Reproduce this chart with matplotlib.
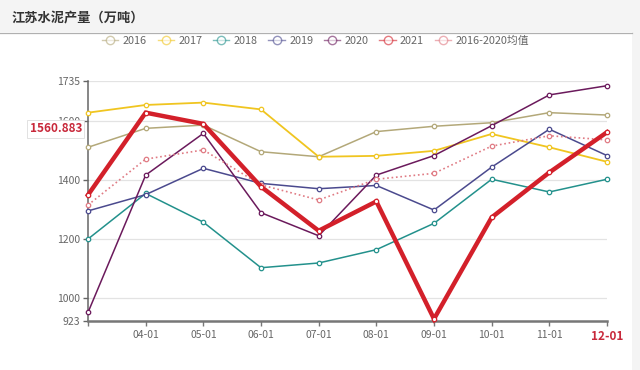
import matplotlib
matplotlib.use("Agg")
import matplotlib.pyplot as plt
from matplotlib.lines import Line2D
from matplotlib.patches import Rectangle
import matplotlib.transforms as mtransforms

plt.rcParams['font.family'] = ['Noto Sans CJK SC', 'DejaVu Sans']

# data (万吨)
months = ['03-01', '04-01', '05-01', '06-01', '07-01', '08-01', '09-01', '10-01', '11-01', '12-01']
y2016 = [1510, 1574, 1585, 1495, 1478, 1563, 1581, 1593, 1627, 1619]
y2017 = [1627, 1653, 1661, 1638, 1478, 1481, 1498, 1555, 1510, 1461]
y2018 = [1200, 1354, 1257, 1103, 1119, 1164, 1253, 1402, 1359, 1402]
y2019 = [1295, 1350, 1439, 1388, 1370, 1381, 1298, 1443, 1571, 1482]
y2020 = [952, 1416, 1557, 1289, 1211, 1416, 1482, 1583, 1687, 1718]
y2021 = [1349, 1627, 1589, 1377, 1228, 1327, 930, 1273, 1425, 1560.883]
y_avg = [1315, 1470, 1501, 1383, 1332, 1402, 1422, 1514, 1549, 1535]
y_ticks = [923, 1000, 1200, 1400, 1600, 1735]

series = [
    ('2016', y2016, '#b3a879', '-', 1.1),
    ('2017', y2017, '#f0c520', '-', 1.3),
    ('2018', y2018, '#23918c', '-', 1.1),
    ('2019', y2019, '#4b4a8e', '-', 1.1),
    ('2020', y2020, '#6b1a5c', '-', 1.1),
    ('2016-2020均值', y_avg, '#e07b84', ':', 1.2),
    ('2021', y2021, '#d3202a', '-', 3.2),
]
legend_order = ['2016', '2017', '2018', '2019', '2020', '2021', '2016-2020均值']

fig = plt.figure(figsize=(6.4, 3.7), dpi=100)
fig.patch.set_facecolor('white')

# header band, right strip and divider
fig.patches.append(Rectangle((0, 1 - 32 / 370), 1, 32 / 370, transform=fig.transFigure,
                             facecolor='#f4f4f4', edgecolor='none', zorder=0))
fig.patches.append(Rectangle((632 / 640, 0), 8 / 640, 1, transform=fig.transFigure,
                             facecolor='#f4f4f4', edgecolor='none', zorder=0))
fig.lines.append(Line2D([0, 632 / 640], [1 - 32.5 / 370] * 2, transform=fig.transFigure,
                        color='#b0b0b0', lw=0.9))
fig.text(12 / 640, 1 - 18 / 370, '江苏水泥产量（万吨）', fontsize=9.5, fontweight='bold',
         color='#333333', va='center', ha='left')

ax = fig.add_axes([88 / 640, 49 / 370, 519 / 640, 240.3 / 370])
x = list(range(len(months)))

for name, vals, col, ls, lw in series:
    z = 5 if name == '2021' else 3
    ax.plot(x, vals, color=col, ls=ls, lw=lw, marker='o', ms=3.2, mfc='white',
            mec=col, mew=0.9, clip_on=False, zorder=z, solid_joinstyle='miter')

ax.set_xlim(0, len(months) - 1)
ax.set_ylim(y_ticks[0], y_ticks[-1])
ax.set_yticks(y_ticks)
ax.set_yticklabels([str(t) for t in y_ticks])
for t in y_ticks[1:]:
    ax.axhline(t, color='#e3e3e3', lw=0.9, zorder=1)

ax.set_xticks(x)
ax.set_xticklabels([''] + months[1:-1] + [months[-1]])

for s in ['top', 'right']:
    ax.spines[s].set_visible(False)
ax.spines['left'].set_color('#666666')
ax.spines['left'].set_linewidth(1.1)
ax.spines['bottom'].set_color('#777777')
ax.spines['bottom'].set_linewidth(1.8)
ax.tick_params(axis='y', colors='#666666', labelsize=7.5, length=3.5, width=1, pad=2)
ax.tick_params(axis='x', colors='#777777', labelcolor='#666666', labelsize=7.5,
               length=3.5, width=1, pad=3)
lbls = ax.get_xticklabels()
lbls[-1].set_color('#c8283a')
lbls[-1].set_fontweight('bold')
lbls[-1].set_fontsize(8.5)

# axis pointer label for the last 2021 value
trans = mtransforms.blended_transform_factory(ax.transAxes, ax.transData)
ax.text(-6 / 519, y2021[-1] + 12, f'{y2021[-1]:.3f}', transform=trans, ha='right', va='center',
        fontsize=8.5, fontweight='bold', color='#c8283a', zorder=10,
        bbox=dict(boxstyle='square,pad=0.2', facecolor='white', edgecolor='#dddddd', lw=0.6))

handles = []
for name in legend_order:
    col = [s[2] for s in series if s[0] == name][0]
    handles.append(Line2D([], [], color=col, lw=1.0, marker='o', ms=6, mfc='white',
                          mec=col, mew=1.0, alpha=0.6))
fig.legend(handles, legend_order, loc='center', bbox_to_anchor=(0.493, 1 - 41 / 370),
           ncol=7, frameon=False, fontsize=7.8, labelcolor='#666666', handlelength=1.5,
           handletextpad=0.4, columnspacing=1.0)

fig.savefig('out.png', dpi=100, facecolor=fig.get_facecolor())
